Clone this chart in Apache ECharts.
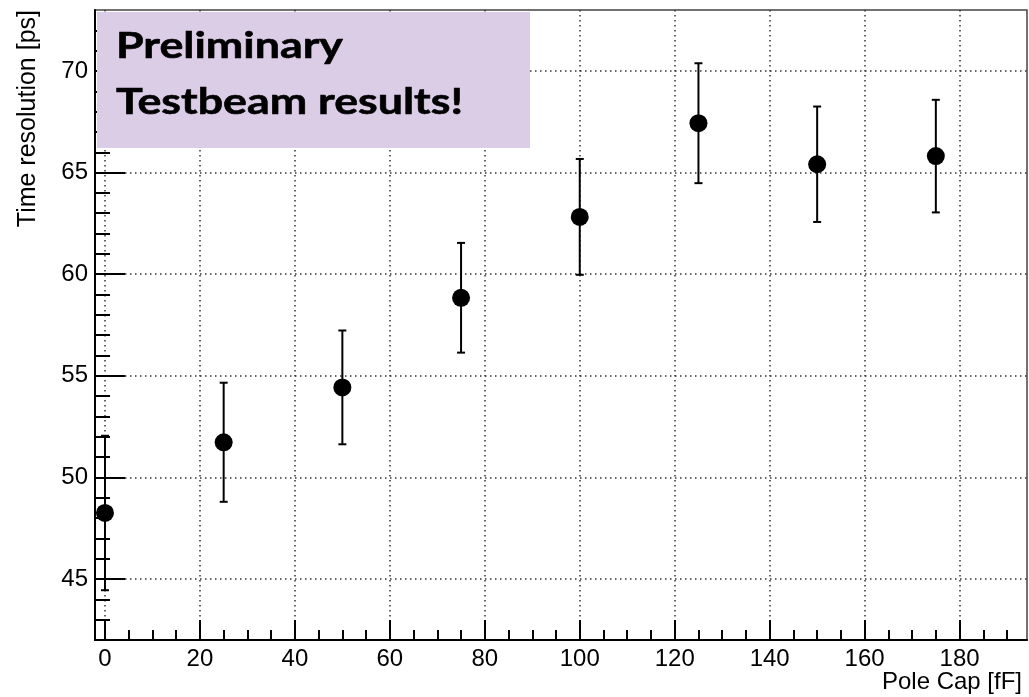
<!DOCTYPE html>
<html>
<head>
<meta charset="utf-8">
<script src="https://cdn.jsdelivr.net/npm/echarts@6/dist/echarts.min.js"></script>
<style>html,body{margin:0;padding:0;background:#fff;}#c{width:1029px;height:697px;}</style>
</head>
<body>
<div id="c"></div>
<script>
// ---- data ----
const poleCap = [0, 25, 50, 75, 100, 125, 150, 175];
const timeRes = [48.25, 51.73, 54.43, 58.84, 62.82, 67.43, 65.41, 65.81];
const timeErr = [3.8, 2.93, 2.8, 2.7, 2.85, 2.95, 2.84, 2.77];
const xMajorTicks = [0, 20, 40, 60, 80, 100, 120, 140, 160, 180];
const xMinorTicks = [5,10,15,25,30,35,45,50,55,65,70,75,85,90,95,105,110,115,125,130,135,145,150,155,165,170,175,185,190];
const yMajorTicks = [45, 50, 55, 60, 65, 70];
const yMinorTicks = [43,44,46,47,48,49,51,52,53,54,56,57,58,59,61,62,63,64,66,67,68,69,71,72];
const xTitle = 'Pole Cap [fF]';
const yTitle = 'Time resolution [ps]';
const boxLines = ['Preliminary', 'Testbeam results!'];

const XMIN = -2.1, XMAX = 194.2, YMIN = 42, YMAX = 73;

const pts = poleCap.map((x, i) => [x, timeRes[i]]);
const errData = poleCap.map((x, i) => [x, timeRes[i], timeErr[i]]);

const chart = echarts.init(document.getElementById('c'), null, {renderer: 'canvas'});
const labelFont = {fontFamily: 'Liberation Sans', fontSize: 24, color: '#000'};
const grid = {left: 95, top: 10, right: 2, bottom: 57, show: true, borderColor: '#444', borderWidth: 1.5, backgroundColor: 'transparent'};
const dotted = {color: '#333', width: 1.5, type: [1.5, 3.5]};

const option = {
  animation: false,
  grid: grid,
  xAxis: [
    {
      type: 'value', min: XMIN, max: XMAX, position: 'bottom',
      axisLine: {show: true, onZero: false, lineStyle: {color: '#000', width: 2}},
      axisTick: {show: true, inside: true, length: 20, customValues: xMajorTicks, lineStyle: {color: '#000', width: 2}},
      axisLabel: Object.assign({customValues: xMajorTicks, margin: 7}, labelFont),
      splitLine: {show: true, lineStyle: dotted}
    },
    {
      type: 'value', min: XMIN, max: XMAX, position: 'bottom', offset: 0,
      axisLine: {show: false, onZero: false},
      axisTick: {show: true, inside: true, length: 10, customValues: xMinorTicks, lineStyle: {color: '#000', width: 2}},
      axisLabel: {show: false},
      splitLine: {show: false}
    }
  ],
  yAxis: [
    {
      type: 'value', min: YMIN, max: YMAX, position: 'left',
      axisLine: {show: true, onZero: false, lineStyle: {color: '#000', width: 2}},
      axisTick: {show: true, inside: true, length: 30, customValues: yMajorTicks, lineStyle: {color: '#000', width: 2}},
      axisLabel: Object.assign({customValues: yMajorTicks, margin: 7}, labelFont),
      splitLine: {show: true, lineStyle: dotted}
    },
    {
      type: 'value', min: YMIN, max: YMAX, position: 'left', offset: 0,
      axisLine: {show: false, onZero: false},
      axisTick: {show: true, inside: true, length: 15, customValues: yMinorTicks, lineStyle: {color: '#000', width: 2}},
      axisLabel: {show: false},
      splitLine: {show: false}
    }
  ],
  series: [
    {
      type: 'custom',
      xAxisIndex: 0, yAxisIndex: 0,
      data: errData,
      encode: {x: 0, y: 1},
      z: 3,
      renderItem: function (params, api) {
        const x = api.value(0), y = api.value(1), e = api.value(2);
        const t = api.coord([x, y + e]);
        const b = api.coord([x, y - e]);
        const hw = 4;
        const st = {stroke: '#000', lineWidth: 2};
        return {
          type: 'group',
          children: [
            {type: 'line', shape: {x1: t[0], y1: t[1], x2: b[0], y2: b[1]}, style: st},
            {type: 'line', shape: {x1: t[0] - hw, y1: t[1], x2: t[0] + hw, y2: t[1]}, style: st},
            {type: 'line', shape: {x1: b[0] - hw, y1: b[1], x2: b[0] + hw, y2: b[1]}, style: st}
          ]
        };
      }
    },
    {
      type: 'scatter',
      xAxisIndex: 0, yAxisIndex: 0,
      data: pts,
      symbol: 'circle',
      symbolSize: 18,
      itemStyle: {color: '#000', opacity: 1},
      emphasis: {disabled: true},
      z: 4
    }
  ],
  graphic: [
    {type: 'rect', z: 100, shape: {x: 97, y: 12, width: 433, height: 136}, style: {fill: '#dccde7'}},
    {type: 'text', z: 101, x: 116, y: 46, scaleX: 1.21, style: {text: boxLines[0], font: 'bold 37px Lato', fill: '#000', verticalAlign: 'middle', align: 'left', stroke: '#000', lineWidth: 0.6}},
    {type: 'text', z: 101, x: 116, y: 102, scaleX: 1.21, style: {text: boxLines[1], font: 'bold 37px Lato', fill: '#000', verticalAlign: 'middle', align: 'left', stroke: '#000', lineWidth: 0.6}},
    {type: 'text', z: 50, x: 1022, y: 682, style: {text: xTitle, font: '24px "Liberation Sans"', fill: '#000', align: 'right', verticalAlign: 'middle'}},
    {type: 'text', z: 50, x: 28, y: 10, rotation: Math.PI / 2, style: {text: yTitle, font: '25px "Liberation Sans"', fill: '#000', align: 'right', verticalAlign: 'middle'}}
  ]
};
chart.setOption(option);
</script>
</body>
</html>
